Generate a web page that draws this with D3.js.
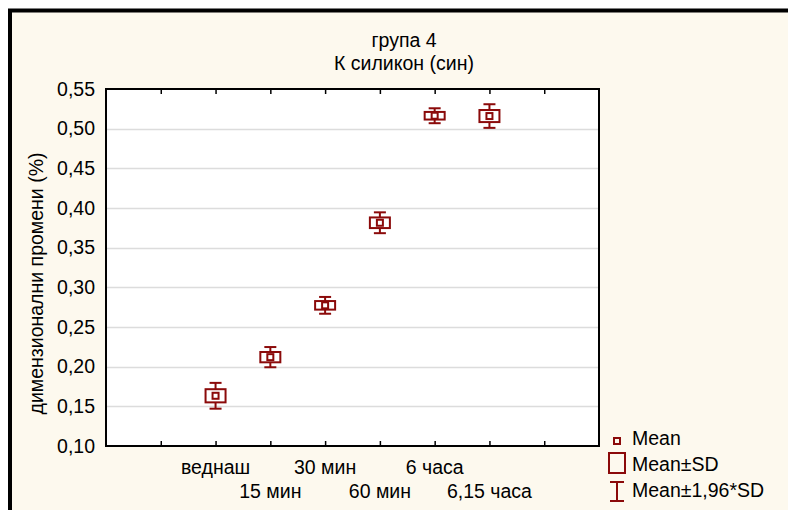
<!DOCTYPE html>
<html>
<head>
<meta charset="utf-8">
<script src="https://cdn.jsdelivr.net/npm/d3@7"></script>
<style>
  html, body { margin: 0; padding: 0; background: #fff; }
  svg { display: block; font-family: "Liberation Sans", Arial, sans-serif; }
</style>
</head>
<body>
<svg id="chart" width="788" height="510"></svg>
<script>
// Measurement groups along the x axis
const categories = ["веднаш", "15 мин", "30 мин", "60 мин", "6 часа", "6,15 часа"];
// Mean dimensional change (%) per group
const means = [0.1633, 0.2120, 0.2773, 0.3814, 0.5163, 0.5159];
// Standard deviation per group
const sds = [0.0083, 0.0065, 0.0054, 0.0067, 0.0048, 0.0076];
// Y axis ticks
const yTicks = [0.10, 0.15, 0.20, 0.25, 0.30, 0.35, 0.40, 0.45, 0.50, 0.55];
const titleLines = ["група 4", "К силикон (син)"];
const yLabel = "димензионални промени (%)";
const legendItems = ["Mean", "Mean±SD", "Mean±1,96*SD"];

const red = "#8b0a0a";
const fontSize = 19.5;
const svg = d3.select("#chart");

// Panel background and outer frame
svg.append("rect").attr("x", 0).attr("y", 0).attr("width", 788).attr("height", 510).attr("fill", "#fff");
svg.append("rect").attr("x", 10).attr("y", 10.5).attr("width", 800).attr("height", 520)
  .attr("fill", "#fdf9ee").attr("stroke", "#000").attr("stroke-width", 4);

const plot = { left: 106, right: 599, top: 89, bottom: 446 };

// Categories sit on slots 2..7 of a 0..9 axis
const x = d3.scaleLinear().domain([0, 9]).range([plot.left, plot.right]);
const y = d3.scaleLinear().domain([0.10, 0.55]).range([plot.bottom, plot.top]);

svg.append("rect").attr("x", plot.left).attr("y", plot.top)
  .attr("width", plot.right - plot.left).attr("height", plot.bottom - plot.top)
  .attr("fill", "#fff");

// Horizontal gridlines
svg.append("g").selectAll("line").data(yTicks.slice(1, -1)).join("line")
  .attr("x1", plot.left).attr("x2", plot.right)
  .attr("y1", d => Math.round(y(d)) + 0.5).attr("y2", d => Math.round(y(d)) + 0.5)
  .attr("stroke", "#dcdcdc").attr("stroke-width", 1.5);

// Y axis labels
const fmt = d => d3.format(".2f")(d).replace(".", ",");
const yAxis = d3.axisLeft(y).tickValues(yTicks).tickFormat(fmt).tickSize(0).tickPadding(11);
const gy = svg.append("g").attr("transform", `translate(${plot.left},0)`).call(yAxis);
gy.select(".domain").remove();
gy.selectAll("text").attr("font-size", fontSize).attr("fill", "#000")
  .attr("font-family", "Liberation Sans, Arial, sans-serif");

// Inward tick marks on bottom and top edges
const slotTicks = d3.range(1, 9);
const xb = d3.axisTop(x).tickValues(slotTicks).tickSize(5).tickFormat("");
const gxb = svg.append("g").attr("transform", `translate(0,${plot.bottom})`).call(xb);
gxb.select(".domain").remove();
gxb.selectAll("line").attr("stroke", "#000").attr("stroke-width", 1.5);
const xt = d3.axisBottom(x).tickValues(slotTicks).tickSize(5).tickFormat("");
const gxt = svg.append("g").attr("transform", `translate(0,${plot.top})`).call(xt);
gxt.select(".domain").remove();
gxt.selectAll("line").attr("stroke", "#000").attr("stroke-width", 1.5);

// Plot frame
svg.append("rect").attr("x", plot.left).attr("y", plot.top)
  .attr("width", plot.right - plot.left).attr("height", plot.bottom - plot.top)
  .attr("fill", "none").attr("stroke", "#000").attr("stroke-width", 2);

// Staggered category labels
svg.append("g").selectAll("text").data(categories).join("text")
  .attr("x", (d, i) => x(i + 2))
  .attr("y", (d, i) => i % 2 === 0 ? 474 : 498)
  .attr("text-anchor", "middle").attr("font-size", fontSize).attr("fill", "#000")
  .text(d => d);

// Titles
svg.append("g").selectAll("text").data(titleLines).join("text")
  .attr("x", 404).attr("y", (d, i) => 47 + i * 23)
  .attr("text-anchor", "middle").attr("font-size", fontSize).attr("fill", "#000")
  .text(d => d);

// Y axis title
svg.append("text")
  .attr("transform", `translate(43,${(plot.top + plot.bottom) / 2 + 16}) rotate(-90)`)
  .attr("text-anchor", "middle").attr("font-size", fontSize).attr("fill", "#000")
  .text(yLabel);

// Box-and-whisker marks: whisker = mean ± 1.96·SD, box = mean ± SD, small square = mean
const boxW = 20, capW = 12, meanS = 6;
const marks = svg.append("g").attr("fill", "none").attr("stroke", red).attr("stroke-width", 2);
means.forEach((m, i) => {
  const cx = x(i + 2);
  const s = sds[i];
  const g = marks.append("g");
  const wTop = y(m + 1.96 * s), wBot = y(m - 1.96 * s);
  const bTop = y(m + s), bBot = y(m - s);
  g.append("line").attr("x1", cx).attr("x2", cx).attr("y1", wTop).attr("y2", wBot);
  g.append("line").attr("x1", cx - capW / 2).attr("x2", cx + capW / 2).attr("y1", wTop).attr("y2", wTop);
  g.append("line").attr("x1", cx - capW / 2).attr("x2", cx + capW / 2).attr("y1", wBot).attr("y2", wBot);
  g.append("rect").attr("x", cx - boxW / 2).attr("y", bTop).attr("width", boxW).attr("height", bBot - bTop)
    .attr("fill", "#fff");
  g.append("rect").attr("x", cx - meanS / 2).attr("y", y(m) - meanS / 2).attr("width", meanS).attr("height", meanS)
    .attr("fill", "#fff");
});

// Legend
const lg = svg.append("g");
const lx = 617;
lg.append("rect").attr("x", lx - 3).attr("y", 438).attr("width", 6).attr("height", 6)
  .attr("fill", "none").attr("stroke", red).attr("stroke-width", 2);
lg.append("rect").attr("x", lx - 8).attr("y", 453).attr("width", 16).attr("height", 20)
  .attr("fill", "none").attr("stroke", red).attr("stroke-width", 2);
lg.append("line").attr("x1", lx).attr("x2", lx).attr("y1", 482).attr("y2", 501).attr("stroke", red).attr("stroke-width", 2);
lg.append("line").attr("x1", lx - 7).attr("x2", lx + 7).attr("y1", 482).attr("y2", 482).attr("stroke", red).attr("stroke-width", 2);
lg.append("line").attr("x1", lx - 7).attr("x2", lx + 7).attr("y1", 501).attr("y2", 501).attr("stroke", red).attr("stroke-width", 2);
lg.selectAll("text").data(legendItems).join("text")
  .attr("x", 632).attr("y", (d, i) => 445 + i * 26)
  .attr("font-size", fontSize).attr("fill", "#000").text(d => d);
</script>
</body>
</html>
